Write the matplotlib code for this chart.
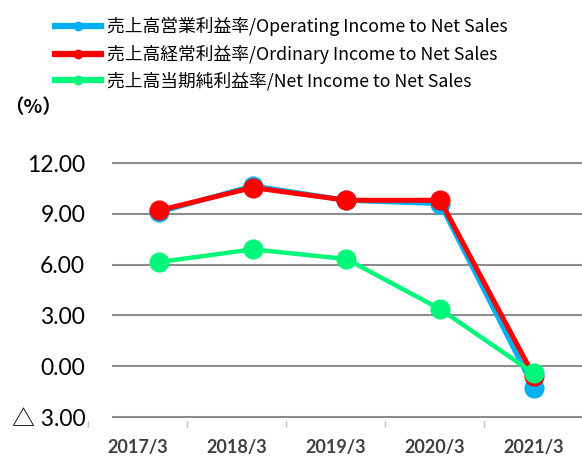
import matplotlib
matplotlib.use('Agg')
import matplotlib.pyplot as plt
from matplotlib.lines import Line2D

plt.rcParams['font.family'] = ['Lato', 'Noto Sans CJK JP', 'DejaVu Sans']

years = ['2017/3', '2018/3', '2019/3', '2020/3', '2021/3']
operating = [9.1, 10.65, 9.8, 9.6, -1.3]
ordinary = [9.2, 10.55, 9.8, 9.8, -0.6]
net = [6.15, 6.9, 6.33, 3.37, -0.43]

y_ticks = [-3, 0, 3, 6, 9, 12]
y_labels = ['△ 3.00', '0.00', '3.00', '6.00', '9.00', '12.00']

names = ['売上高営業利益率/Operating Income to Net Sales',
         '売上高経常利益率/Ordinary Income to Net Sales',
         '売上高当期純利益率/Net Income to Net Sales']
colors = ['#00B0F0', '#FF0000', '#00F77A']

W, H = 582, 458
fig = plt.figure(figsize=(W / 100, H / 100), dpi=100)
ax = fig.add_axes([88 / W, (H - 421) / H, (W - 88) / W, (421 - 161) / H])

x = list(range(len(years)))
ax.set_xlim(-0.757, 4.512)
ax.set_ylim(-3.236, 12.12)

# gridlines start a bit right of the axes edge, like the original
ax.hlines(y_ticks, -0.5, 4.512, colors='#8c8c8c', linewidth=1.5, zorder=1)

ax.plot(x, operating, color=colors[0], lw=3.6, marker='o', ms=13.5, zorder=3)
ax.plot(x, ordinary, color=colors[1], lw=3.6, marker='o', ms=13.5, zorder=4)
ax.plot(x, net, color=colors[2], lw=3.2, marker='o', ms=13.5, zorder=5)

for s in ax.spines.values():
    s.set_visible(False)

ax.set_yticks(y_ticks)
ax.set_yticklabels(y_labels, fontsize=16.5, color='black')
ax.tick_params(axis='y', length=0, pad=2)

step = 1.056
ax.set_xticks([-0.224 + i * step for i in x])
ax.set_xticklabels(years, fontsize=13, color='#404040', fontweight='bold')
ax.set_xticks([-0.757 + i * step for i in x], minor=True)
ax.tick_params(axis='x', which='major', length=0, pad=13)
ax.tick_params(axis='x', which='minor', length=4, width=1, color='#bfbfbf', direction='out')

handles = [Line2D([], [], color=c, lw=4.5, marker='o', ms=6) for c in colors]
fig.legend(handles, names, loc='upper left', bbox_to_anchor=(55 / W, 1 - 17 / H),
           frameon=False, prop={'family': 'Noto Sans CJK JP', 'size': 12.8},
           handlelength=2.6, handletextpad=0.3,
           labelspacing=0.47, borderpad=0, borderaxespad=0)

fig.text(4 / W, 1 - 108 / H, '（%）', fontsize=14, fontweight='bold', va='center',
         family='Noto Sans CJK JP')

fig.savefig('out.png', dpi=100)
